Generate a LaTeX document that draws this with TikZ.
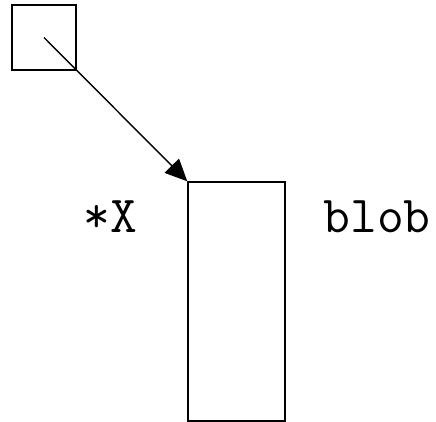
\documentclass[tikz,border=0pt]{standalone}
\usetikzlibrary{arrows.meta, positioning}

\begin{document}
\begin{tikzpicture}[
  x=1pt, y=-1pt,
  cell/.style={draw, line width=1.4pt, inner sep=0pt},
  lbl/.style={font=\fontsize{52}{52}\selectfont\ttfamily, inner sep=0pt, anchor=base},
  arr/.style={-{Triangle[length=22pt, width=20pt]}, line width=1.4pt}
]
\useasboundingbox (0,0) rectangle (436,422);

\node[cell, minimum width=64pt, minimum height=65pt] (ptr) at (44,37.5) {};
\node[cell, minimum width=97pt, minimum height=239pt] (blob) at (236.5,301.5) {};

\node[lbl] (name) at (110,232) {*X};
\node[lbl] (tag)  at (377,232) {blob};

\draw[arr] (ptr.center) -- (blob.north west);

\end{tikzpicture}
\end{document}
